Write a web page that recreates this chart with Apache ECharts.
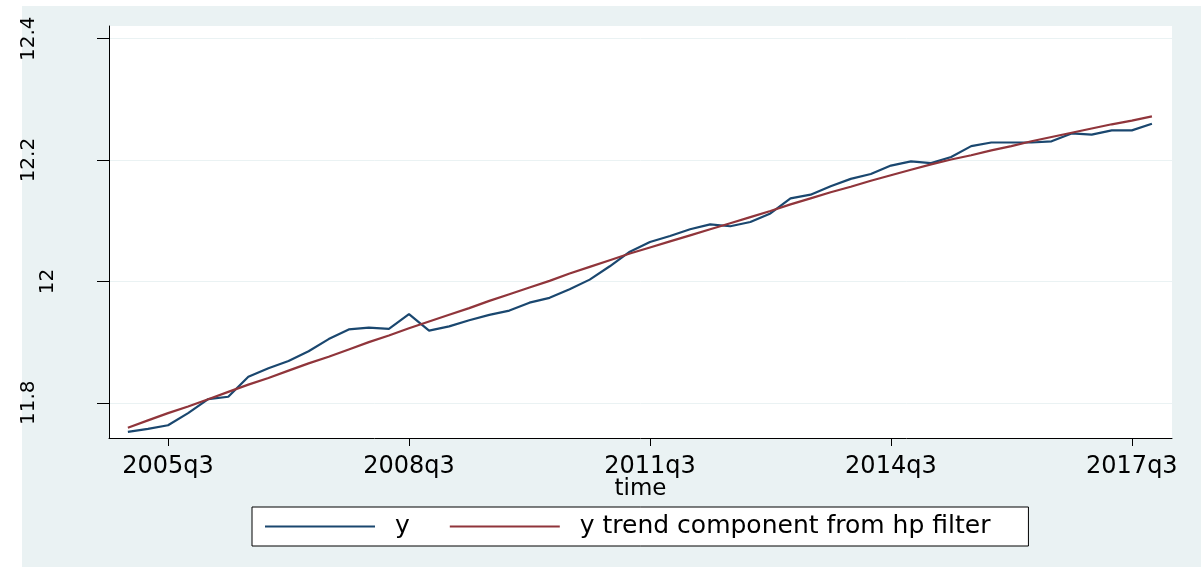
<!DOCTYPE html>
<html>
<head>
<meta charset="utf-8">
<script src="https://cdn.jsdelivr.net/npm/echarts@6/dist/echarts.min.js"></script>
<style>
  html, body { margin: 0; padding: 0; background: #fff; }
  #container { width: 1201px; height: 567px; }
</style>
</head>
<body>
<div id="container"></div>
<script>
// quarters 2005q1 .. 2017q4
var quarters = function() {
  var data = [];
  for (var yr = 2005; yr <= 2017; yr++) {
    for (var q = 1; q <= 4; q++) {
      data.push(yr + 'q' + q);
    }
  }
  return data;
}();

var yValues = [
  11.752, 11.757, 11.763, 11.783, 11.806, 11.810, 11.843, 11.857, 11.869, 11.885,
  11.905, 11.921, 11.924, 11.922, 11.946, 11.919, 11.926, 11.936, 11.945, 11.952,
  11.965, 11.973, 11.987, 12.003, 12.025, 12.049, 12.065, 12.075, 12.086, 12.094,
  12.091, 12.098, 12.112, 12.137, 12.143, 12.157, 12.169, 12.177, 12.191, 12.198,
  12.195, 12.205, 12.223, 12.229, 12.229, 12.229, 12.231, 12.244, 12.242, 12.249,
  12.249, 12.260
];

var trendValues = [
  11.759, 11.771, 11.783, 11.794, 11.806, 11.818, 11.830, 11.841, 11.853, 11.865,
  11.876, 11.888, 11.900, 11.911, 11.923, 11.934, 11.945, 11.956, 11.968, 11.979,
  11.990, 12.001, 12.013, 12.024, 12.035, 12.046, 12.056, 12.066, 12.076, 12.086,
  12.096, 12.106, 12.116, 12.127, 12.137, 12.147, 12.156, 12.166, 12.175, 12.184,
  12.193, 12.201, 12.208, 12.216, 12.223, 12.231, 12.238, 12.245, 12.252, 12.259,
  12.265, 12.272
];

var xTickLabels = ['2005q3', '2008q3', '2011q3', '2014q3', '2017q3'];
var yTickLabels = [11.8, 12, 12.2, 12.4];

var FONT = 'DejaVu Sans';
var xTickIdx = xTickLabels.map(function(l) { return quarters.indexOf(l); });

function pairs(vals) {
  return vals.map(function(v, i) { return [i, v]; });
}

var myChart = echarts.init(document.getElementById('container'));

var option = {
  backgroundColor: '#fff',
  animation: false,
  graphic: [{
    type: 'rect',
    silent: true,
    z: -10,
    shape: { x: 22, y: 6, width: 1179, height: 561 },
    style: { fill: '#eaf2f3' }
  }],
  grid: {
    left: 109,
    right: 29,
    top: 26,
    bottom: 129,
    show: true,
    backgroundColor: '#fff',
    borderWidth: 0
  },
  legend: {
    left: 252,
    top: 507,
    backgroundColor: '#fff',
    borderColor: '#000',
    borderWidth: 1,
    borderRadius: 0,
    padding: [7, 38, 7, 13],
    icon: 'rect',
    itemWidth: 110,
    itemHeight: 2,
    itemGap: 40,
    textStyle: {
      fontFamily: FONT,
      fontSize: 25,
      color: '#000',
      padding: [0, 0, 0, 15]
    },
    data: ['y', 'y trend component from hp filter']
  },
  xAxis: {
    type: 'value',
    min: -0.94,
    max: 52,
    name: 'time',
    nameLocation: 'middle',
    nameGap: 40,
    nameMoveOverlap: false,
    nameTextStyle: { fontFamily: FONT, fontSize: 23, color: '#000' },
    axisLine: { show: true, onZero: false, lineStyle: { color: '#000', width: 1 } },
    axisTick: { show: true, length: 8, customValues: xTickIdx, lineStyle: { color: '#000' } },
    axisLabel: {
      customValues: xTickIdx,
      formatter: function(v) { return quarters[v]; },
      fontFamily: FONT,
      fontSize: 24,
      color: '#000',
      margin: 17
    },
    splitLine: { show: false }
  },
  yAxis: {
    type: 'value',
    min: 11.742,
    max: 12.421,
    axisLine: { show: true, onZero: false, lineStyle: { color: '#000', width: 1 } },
    axisTick: { show: true, length: 12, customValues: yTickLabels, lineStyle: { color: '#000' } },
    axisLabel: {
      customValues: yTickLabels,
      rotate: 90,
      margin: 51,
      formatter: function(v) {
        return String(v).length > 2 ? '{a|' + v + '}' : '{b|' + v + '}';
      },
      rich: {
        a: { fontFamily: FONT, fontSize: 20, color: '#000', padding: [0, 0, 19, 0] },
        b: { fontFamily: FONT, fontSize: 20, color: '#000' }
      }
    },
    splitLine: { show: true, lineStyle: { color: '#eaf2f3', width: 1 } }
  },
  series: [
    {
      name: 'y',
      type: 'line',
      symbol: 'none',
      lineStyle: { color: '#1a476f', width: 2.2 },
      itemStyle: { color: '#1a476f' },
      data: pairs(yValues)
    },
    {
      name: 'y trend component from hp filter',
      type: 'line',
      symbol: 'none',
      lineStyle: { color: '#90353b', width: 2.2 },
      itemStyle: { color: '#90353b' },
      data: pairs(trendValues)
    }
  ]
};

myChart.setOption(option);
</script>
</body>
</html>
